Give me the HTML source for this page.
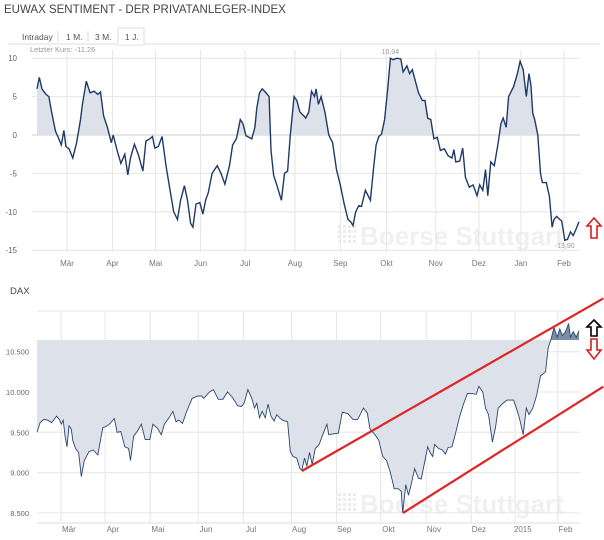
<!DOCTYPE html>
<html><head><meta charset="utf-8">
<style>
body{margin:0;background:#fff;width:604px;height:540px;overflow:hidden;font-family:"Liberation Sans",sans-serif;}
svg{display:block}
</style></head>
<body>
<svg id="c" width="604" height="540" xmlns="http://www.w3.org/2000/svg">
<text x="4" y="13" font-size="11.5" fill="#444">EUWAX SENTIMENT - DER PRIVATANLEGER-INDEX</text>
<line x1="8" y1="44" x2="600" y2="44" stroke="#ddd"/>
<rect x="118" y="28" width="26" height="17" fill="#fff" stroke="#ddd"/>
<line x1="118" y1="44" x2="144" y2="44" stroke="#fff" stroke-width="1.5"/>
<line x1="58" y1="31" x2="58" y2="42" stroke="#ddd"/><line x1="88" y1="31" x2="88" y2="42" stroke="#ddd"/>
<text x="22" y="40" font-size="8.5" fill="#555">Intraday</text>
<text x="66" y="40" font-size="8.5" fill="#555">1 M.</text>
<text x="95" y="40" font-size="8.5" fill="#555">3 M.</text>
<text x="125" y="40" font-size="8.5" fill="#555">1 J.</text>
<text x="30" y="52" font-size="7.5" fill="#999">Letzter Kurs: -11,26</text>
<text x="10" y="294" font-size="9.5" fill="#444">DAX</text>
<g id="g1"></g><g id="g2"></g>
</svg>
<script>
// Sentiment chart data (x = time units 0..1408)
const sentT=[0,6,13,23,31,38,48,55,63,70,75,83,93,103,113,118,128,138,148,158,165,173,183,193,198,208,218,228,236,243,253,263,275,283,293,300,306,315,325,335,345,355,365,373,383,391,399,405,413,423,431,438,445,455,468,478,488,500,508,518,528,535,543,558,566,571,578,585,593,603,608,615,623,635,643,651,658,668,675,683,693,698,706,713,721,725,731,738,748,758,768,778,788,798,808,815,821,828,836,843,853,866,875,881,888,895,903,911,918,925,935,945,951,961,968,975,983,991,1001,1008,1015,1023,1031,1040,1048,1058,1068,1078,1083,1088,1098,1106,1113,1123,1133,1143,1150,1158,1165,1171,1179,1188,1198,1205,1211,1219,1225,1238,1248,1255,1263,1271,1278,1283,1288,1293,1301,1308,1313,1323,1331,1338,1343,1350,1358,1363,1371,1378,1386,1393,1400,1408];
const sentV=[6,7.5,6,5.3,5,3,0.5,-0.3,-1.3,0.6,-1.5,-1.8,-3,-1,2,4,7,5.5,5.7,5.3,5.6,2.5,1,-1,0,-2,-3.7,-2.5,-5.2,-3,-1.2,-2.5,-4.7,-0.8,-0.5,-0.2,-1.7,-1.5,-0.2,-4,-7,-10,-11,-8.5,-6.6,-8.5,-11.5,-12,-9,-8.8,-10.3,-8.5,-7.5,-5,-4,-5,-6.4,-4,-1.3,-0.5,2,1.5,-0.1,-0.5,1,3.5,5.5,6,5.6,5,-2,-5.3,-6.5,-8.5,-5,-4.7,0,5,4.5,3,2.5,2.2,3,5.7,5,6,4,5,3,0,-1,-4.5,-6.5,-9,-11,-11.3,-11.8,-10,-9.2,-9.3,-7.2,-8.5,-4,-1.3,-0.2,0.1,2,6,10,9.8,10,9.9,8.2,9,8,8.5,7,5.5,4.5,4.5,2.2,2,-0.5,-0.3,-2,-1.8,-2.7,-3,-1.9,-3.5,-3.4,-1.7,-5.5,-6.8,-6.5,-7.9,-6.5,-7.2,-4.5,-7.9,-3.5,-4,-1,1.5,2.2,1,5,6.3,8,9.6,8.5,5,8,6.5,2.8,2,0,-5,-6.2,-6.2,-8,-12,-11,-10.6,-11,-11.2,-13.7,-13.6,-12.6,-13.1,-12.3,-11.3];
const sentTicks=[10,5,0,-5,-10,-15];
const sentTickLabels=["10","5","0","-5","-10","-15"];
const months1=["Mär","Apr","Mai","Jun","Jul","Aug","Sep","Okt","Nov","Dez","Jan","Feb"];
const months1T=[78,196,308,425,541,670,788,908,1036,1148,1257,1369];
// DAX chart data
const daxT=[0,8,18,28,38,51,58,63,68,73,78,83,89,93,100,108,115,123,135,146,158,171,178,188,201,208,218,228,238,243,251,263,271,281,293,301,313,323,331,343,353,361,368,378,388,403,418,428,433,448,458,471,483,495,508,521,531,538,548,558,565,571,578,585,593,600,608,616,623,630,638,651,658,665,675,683,688,695,701,708,715,723,733,743,753,758,768,783,793,808,821,833,848,858,865,878,888,898,908,918,928,938,946,950,958,965,971,981,991,998,1008,1015,1021,1028,1033,1043,1053,1061,1068,1078,1088,1098,1108,1118,1131,1141,1148,1158,1165,1173,1183,1191,1198,1208,1221,1238,1248,1255,1263,1271,1278,1288,1298,1308,1321,1328,1335,1343,1351,1358,1365,1373,1381,1386,1393,1401,1408];
const daxV=[9500,9620,9660,9650,9620,9700,9660,9600,9650,9450,9320,9580,9540,9400,9300,9250,8950,9150,9260,9280,9220,9560,9570,9600,9670,9500,9510,9320,9300,9150,9450,9530,9600,9410,9410,9600,9550,9470,9600,9680,9760,9630,9650,9610,9750,9920,9950,9950,9920,10000,10030,9910,9910,10000,9930,9830,9820,9860,10030,9920,9800,9860,9680,9760,9680,9850,9700,9640,9720,9680,9650,9630,9260,9200,9180,9050,9030,9180,9080,9250,9100,9300,9350,9480,9600,9470,9480,9490,9750,9730,9660,9660,9800,9740,9540,9470,9400,9200,9150,9000,8800,8800,8770,8500,8850,8720,8830,9050,8930,8920,9150,9320,9250,9200,9350,9300,9280,9230,9310,9320,9500,9700,9850,9980,9980,9970,10070,10000,9800,9720,9380,9560,9800,9850,9900,9900,9760,9640,9470,9800,9720,9800,9960,10200,10250,10550,10650,10800,10680,10780,10700,10750,10850,10680,10750,10680,10760];
const daxBase=10645;
const daxTicks=[10500,10000,9500,9000,8500];
const daxTickLabels=["10.500","10.000","9.500","9.000","8.500"];
const months2=["Mär","Apr","Mai","Jun","Jul","Aug","Sep","Okt","Nov","Dez","2015","Feb"];
const months2T=[83,197,314,439,556,681,798,913,1031,1148,1262,1373];
const trendUpperT=[688,1471],trendUpperV=[9020,11161];
const trendLowerT=[951,1471],trendLowerV=[8500,10066];

const NS="http://www.w3.org/2000/svg";
function mk(p,tag,a){const e=document.createElementNS(NS,tag);for(const k in a)e.setAttribute(k,a[k]);p.appendChild(e);return e;}
const xS=t=>37+t*(579-37)/1408;
function wm(g,y){
  const t=mk(g,'text',{x:360,y:y,'font-size':26,'font-weight':'bold',fill:'#f0f0f0'});t.textContent='Boerse Stuttgart';
  
  
  for(let i=0;i<4;i++)for(let j=0;j<4;j++)mk(g,'rect',{x:338+i*5,y:y-20+j*5,width:3,height:3,fill:'#ececec'});
}
// chart 1
(function(){
  const g=document.getElementById('g1');
  const yS=v=>135-v*7.68;
  wm(g,245);
  sentTicks.forEach((v,i)=>{
    const l=mk(g,'line',{x1:32,x2:580,y1:yS(v),y2:yS(v),stroke:v===0?'#ccc':'#e6e6e6'});
    
    
    const t=mk(g,'text',{x:17,y:yS(v)+3,'font-size':8,fill:'#666','text-anchor':'end'});t.textContent=sentTickLabels[i];
    
    
  });
  months1.forEach((m,i)=>{
    mk(g,'line',{x1:xS(months1T[i]),x2:xS(months1T[i]),y1:50,y2:252,stroke:'#e6e6e6'});
    const t=mk(g,'text',{x:xS(months1T[i]),y:266,'font-size':8,fill:'#777','text-anchor':'middle'});t.textContent=m;
    
    
  });
  mk(g,'defs',{}).innerHTML='<clipPath id="pos"><rect x="0" y="0" width="604" height="'+yS(0)+'"/></clipPath>';
  let pts=sentT.map((t,i)=>xS(t).toFixed(1)+','+yS(sentV[i]).toFixed(1));
  const a=mk(g,'polygon',{points:xS(sentT[0])+','+yS(0)+' '+pts.join(' ')+' '+xS(sentT[sentT.length-1])+','+yS(0),fill:'#dde2ea','clip-path':'url(#pos)'});
  
  
  const l=mk(g,'polyline',{points:pts.join(' '),fill:'none',stroke:'#1f3a66','stroke-width':1.4});
  
  
  const mx=sentV.indexOf(Math.max(...sentV)),mn=sentV.indexOf(Math.min(...sentV));
  let t=mk(g,'text',{x:xS(sentT[mx]),y:yS(sentV[mx])-4,'font-size':7,fill:'#999','text-anchor':'middle'});t.textContent='10,04';
  
  
  t=mk(g,'text',{x:xS(sentT[mn]),y:yS(sentV[mn])+8,'font-size':7,fill:'#999','text-anchor':'middle'});t.textContent='-13,90';
  
  
  const ar=mk(g,'path',{d:'M594,218 L601,226 L597,226 L597,238 L591,238 L591,226 L587,226 Z',fill:'#fff',stroke:'#d42020','stroke-width':1.6});
  
  
})();
// chart 2
(function(){
  const g=document.getElementById('g2');
  const yS=v=>351.7-(v-10500)*40.3/500;
  wm(g,513);
  daxTicks.forEach((v,i)=>{
    const l=mk(g,'line',{x1:37,x2:580,y1:yS(v),y2:yS(v),stroke:'#e6e6e6'});
    
    
    const t=mk(g,'text',{x:29,y:yS(v)+3,'font-size':7.5,fill:'#666','text-anchor':'end'});t.textContent=daxTickLabels[i];
    
    
  });
  mk(g,'line',{x1:37,x2:580,y1:311,y2:311,stroke:'#e6e6e6'});
  mk(g,'line',{x1:37,x2:580,y1:523,y2:523,stroke:'#ddd'});
  months2.forEach((m,i)=>{
    mk(g,'line',{x1:xS(months2T[i]-20),x2:xS(months2T[i]-20),y1:311,y2:523,stroke:'#e6e6e6'});
    const t=mk(g,'text',{x:xS(months2T[i]),y:532,'font-size':8,fill:'#777','text-anchor':'middle'});t.textContent=m;
    
    
  });
  let pts=daxT.map((t,i)=>xS(t).toFixed(1)+','+yS(daxV[i]).toFixed(1));
  const b=yS(daxBase);
  mk(g,'defs',{}).innerHTML='<clipPath id="ab"><rect x="0" y="0" width="604" height="'+b+'"/></clipPath><clipPath id="bb"><rect x="0" y="'+b+'" width="604" height="300"/></clipPath>';
  const poly=xS(daxT[0])+','+b+' '+pts.join(' ')+' '+xS(daxT[daxT.length-1])+','+b;
  let a=mk(g,'polygon',{points:poly,fill:'#dde2ea','clip-path':'url(#bb)'});
  
  
  a=mk(g,'polygon',{points:poly,fill:'#7d8ea8','clip-path':'url(#ab)'});
  
  
  const l=mk(g,'polyline',{points:pts.join(' '),fill:'none',stroke:'#2a4670','stroke-width':0.9});
  
  
  let tl=mk(g,'line',{x1:xS(trendUpperT[0]),y1:yS(trendUpperV[0]),x2:xS(trendUpperT[1]),y2:yS(trendUpperV[1]),stroke:'#e02424','stroke-width':2.2});
  
  
  tl=mk(g,'line',{x1:xS(trendLowerT[0]),y1:yS(trendLowerV[0]),x2:xS(trendLowerT[1]),y2:yS(trendLowerV[1]),stroke:'#e02424','stroke-width':2.2});
  
  
  let ar=mk(g,'path',{d:'M594,320 L601,327 L597,327 L597,336 L591,336 L591,327 L587,327 Z',fill:'#fff',stroke:'#000','stroke-width':1.6});
  
  
  ar=mk(g,'path',{d:'M591,339 L597,339 L597,350 L601,350 L594,359 L587,350 L591,350 Z',fill:'#fff',stroke:'#d42020','stroke-width':1.6});
  
  
})();
</script>
</body></html>
